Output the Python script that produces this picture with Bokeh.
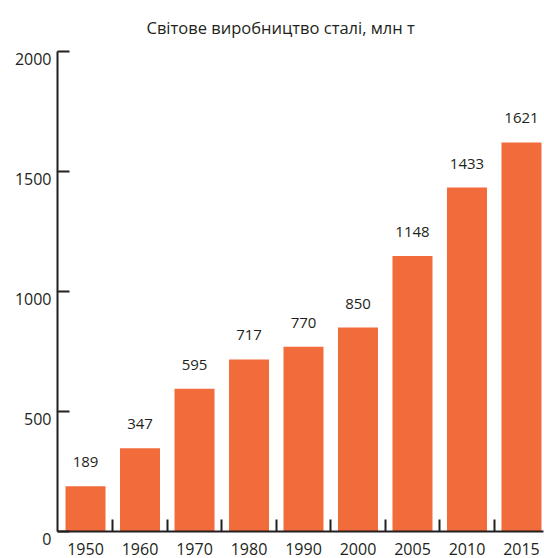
from bokeh.plotting import figure
from bokeh.models import Range1d, FixedTicker, ColumnDataSource
from bokeh.embed import file_html
from bokeh.resources import INLINE
from bokeh.core.properties import value

years = ["1950", "1960", "1970", "1980", "1990", "2000", "2005", "2010", "2015"]
steel = [189, 347, 595, 717, 770, 850, 1148, 1433, 1621]
y_ticks = [0, 500, 1000, 1500, 2000]
title_text = "Світове виробництво сталі, млн т"

FONT = "Open Sans"
DARK = "#231f20"
BAR = "#f26b3a"

xs = list(range(len(years)))
src = ColumnDataSource(dict(x=xs, top=steel, label=[str(v) for v in steel]))

p = figure(width=544, height=558,
           x_range=Range1d(-0.514, 8.404), y_range=Range1d(0, 2000),
           output_backend="svg", toolbar_location=None,
           min_border_left=57, min_border_right=1, min_border_top=51,
           min_border_bottom=27)

p.title.text = title_text
p.title.align = "left"
p.title.offset = 89
p.title.vertical_align = "top"
p.title.standoff = 22
p.title.text_font = FONT
p.title.text_font_size = "16.5px"
p.title.text_font_style = "normal"
p.title.text_color = DARK

p.outline_line_color = None
p.xgrid.visible = False
p.ygrid.visible = False

p.vbar(x="x", top="top", bottom=0, width=0.734, source=src,
       fill_color=BAR, line_color=None)
p.text(x="x", y="top", text="label", source=src,
       text_align="center", text_baseline="alphabetic", y_offset=-24,
       text_font=value(FONT), text_font_size="15px", text_color=DARK)

xa = p.xaxis[0]
xa.ticker = FixedTicker(ticks=xs, minor_ticks=[i + 0.5 for i in range(len(years) - 1)])
xa.major_label_overrides = {i: y for i, y in enumerate(years)}
xa.major_tick_in = 0
xa.major_tick_out = 0
xa.minor_tick_in = 12
xa.minor_tick_out = 0
xa.minor_tick_line_width = 2
xa.minor_tick_line_color = DARK
xa.axis_line_width = 2
xa.axis_line_color = DARK
xa.major_label_standoff = 11
xa.major_label_text_font = FONT
xa.major_label_text_font_size = "16px"
xa.major_label_text_color = DARK

ya = p.yaxis[0]
ya.ticker = FixedTicker(ticks=y_ticks)
ya.major_label_overrides = {v: "\n" + str(v) for v in y_ticks}
ya.major_label_text_line_height = 0.72
ya.major_tick_in = 12
ya.major_tick_out = 0
ya.minor_tick_in = 0
ya.minor_tick_out = 0
ya.major_tick_line_width = 2
ya.major_tick_line_color = DARK
ya.axis_line_width = 2
ya.axis_line_color = DARK
ya.major_label_standoff = 6
ya.major_label_text_font = FONT
ya.major_label_text_font_size = "16px"
ya.major_label_text_color = DARK

open("out.html", "w").write(file_html(p, INLINE))
